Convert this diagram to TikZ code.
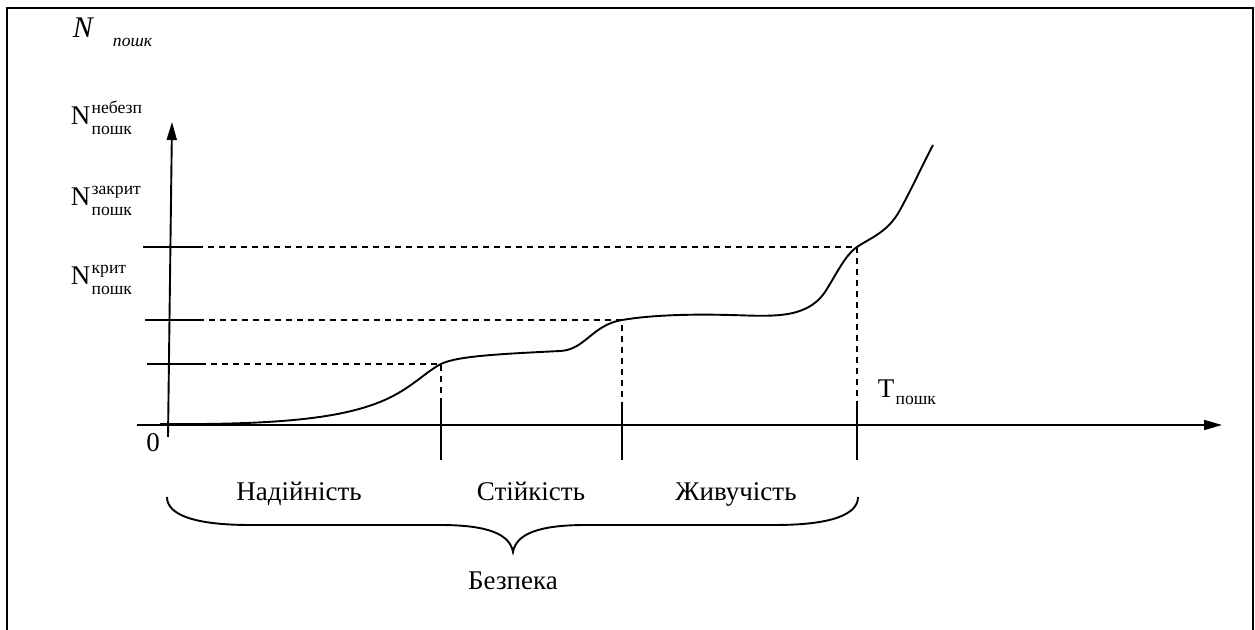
\documentclass[tikz,border=0pt]{standalone}
\usepackage{fontspec}
\setmainfont{Liberation Serif}
\usetikzlibrary{arrows.meta}

\newcommand{\idx}[1]{{\fontsize{8.8}{10.5}\selectfont #1}}
\newcommand{\nidx}[2]{N\hspace{0.6pt}\raisebox{-5pt}{\fontsize{8.8}{10.5}\selectfont
    \begin{tabular}[b]{@{}l@{}}#1\\#2\end{tabular}}}

\begin{document}
\begin{tikzpicture}[
            x = 0.5pt, y = -0.5pt, % pixel grid, y runs down
            > = {Triangle[length=9pt,width=5pt]}, % arrow head style
            line width = 0.95pt, % line style
            font = \fontsize{13.5}{16}\selectfont
        ]

        \tikzstyle{guide}=[
            dash pattern = on 3pt off 2.5pt
        ]
        \tikzstyle{lbl}=[
            inner sep = 0pt
        ]

	\useasboundingbox (0,0) rectangle (1255,630);
	\draw[line width=1.1pt] (7,630) -- (7,8) -- (1253,8) -- (1253,630);

	% axes
	\draw[->] (168,437) -- (172,122);
	\draw[->] (137,425) -- (1222,425);

	% points on the curve
	\coordinate (rel) at (441,364);
	\coordinate (stab) at (622,320);
	\coordinate (surv) at (857,247);

	% ticks on N axis
	\coordinate (n1) at (200,364);
	\coordinate (n2) at (198,320);
	\coordinate (n3) at (197,247);
	\draw (147,364) -- (n1);
	\draw (145,320) -- (n2);
	\draw (143,247) -- (n3);

	% ticks on T axis
	\coordinate (t1) at (441,402);
	\coordinate (t2) at (622,402);
	\coordinate (t3) at (857,404);
	\draw (t1) -- (441,460);
	\draw (t2) -- (622,460);
	\draw (t3) -- (857,460);

	\draw[guide] (n1) -- (rel) -- (t1);
	\draw[guide] (n2) -- (stab) -- (t2);
	\draw[guide] (n3) -- (surv) -- (t3);

	% curve
	\draw (160,424) .. controls (280,425) and (340,418) .. (380,402)
	    .. controls (410,390) and (425,372) .. (rel)
	    .. controls (457,356) and (500,354) .. (560,351)
	    .. controls (585,350) and (592,325) .. (stab)
	    .. controls (652,315) and (690,314) .. (730,315)
	    .. controls (770,316) and (806,320) .. (825,292)
	    .. controls (836,275) and (845,255) .. (surv)
	    .. controls (872,237) and (888,232) .. (900,210)
	    .. controls (910,192) and (925,160) .. (933,145);

	% labels
	\node[lbl, anchor=base west] (nlab) at (72,38)
	    {\fontsize{15}{16}\selectfont\itshape N\hspace{10pt}\raisebox{-4.5pt}{\idx{пошк}}};
	\node[lbl, anchor=base west] (ldang) at (70,125) {\nidx{небезп}{пошк}};
	\node[lbl, anchor=base west] (lpre) at (70,206) {\nidx{закрит}{пошк}};
	\node[lbl, anchor=base west] (lcrit) at (70,285) {\nidx{крит}{пошк}};
	\node[lbl, anchor=base] (zero) at (153,452) {0};
	\node[lbl, anchor=base west] (tlab) at (877,398)
	    {T\hspace{0.6pt}\raisebox{-3.5pt}{\idx{пошк}}};

	\node[lbl, anchor=base] (rlab) at (299,501) {Надійність};
	\node[lbl, anchor=base] (slab) at (531,501) {Стійкість};
	\node[lbl, anchor=base] (vlab) at (736,501) {Живучість};

	% brace
	\draw (167,497) .. controls (167,515) and (195,525) .. (250,525)
	    -- (440,525) .. controls (490,525) and (510,535) .. (513,552)
	    .. controls (516,535) and (536,525) .. (586,525)
	    -- (775,525) .. controls (830,525) and (858,515) .. (858,497);
	\node[lbl, anchor=base] (safe) at (513,590) {Безпека};

    \end{tikzpicture}
\end{document}
